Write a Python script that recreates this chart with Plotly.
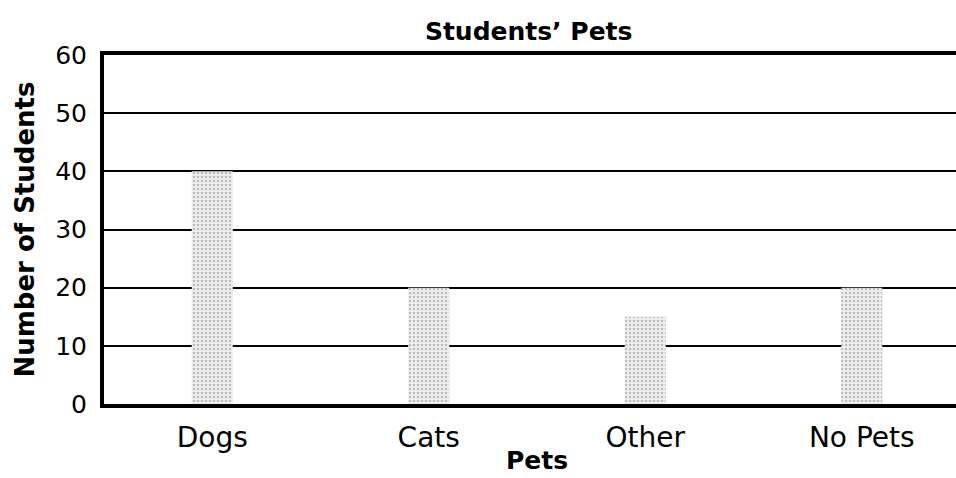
import plotly.graph_objects as go

categories = ["Dogs", "Cats", "Other", "No Pets"]
students = [40, 20, 15, 20]
y_ticks = [0, 10, 20, 30, 40, 50, 60]

fig = go.Figure()
fig.add_trace(go.Bar(
    x=categories,
    y=students,
    width=0.19,
    marker=dict(
        color="#e4e4e4",
        line=dict(width=0),
        pattern=dict(shape=".", fgcolor="#8c8c8c", bgcolor="#efefef", size=4, solidity=0.35),
    ),
))

font_family = "DejaVu Sans"
fig.update_layout(
    width=970, height=478,
    margin=dict(l=104, r=0, t=55, b=74, autoexpand=False),
    paper_bgcolor="white", plot_bgcolor="white",
    showlegend=False,
    title=dict(text="<b>Students’ Pets</b>", x=0.545, xanchor="center", y=0.935, yanchor="middle",
               font=dict(family=font_family, size=25, color="black")),
    font=dict(family=font_family, color="black"),
)
fig.update_xaxes(
    showline=True, linecolor="black", linewidth=4, mirror=True,
    showgrid=False, ticks="", ticklabelstandoff=5, automargin=False,
    tickfont=dict(size=28, color="black"),
    title=dict(text="<b>Pets</b>", font=dict(size=25, color="black"), standoff=0),
)
fig.update_yaxes(
    range=[0, 60], tickvals=y_ticks,
    showline=True, linecolor="black", linewidth=4,
    showgrid=True, gridcolor="black", gridwidth=2,
    zeroline=False, ticks="", ticklabelstandoff=8, automargin=False,
    tickfont=dict(size=25, color="black"),
    title=dict(text="<b>Number of Students</b>", font=dict(size=26, color="black"), standoff=14),
)

fig.write_html(
    "out.html",
    config={"displayModeBar": False},
    post_script="document.body.style.margin='0';document.body.style.overflow='hidden';",
)
